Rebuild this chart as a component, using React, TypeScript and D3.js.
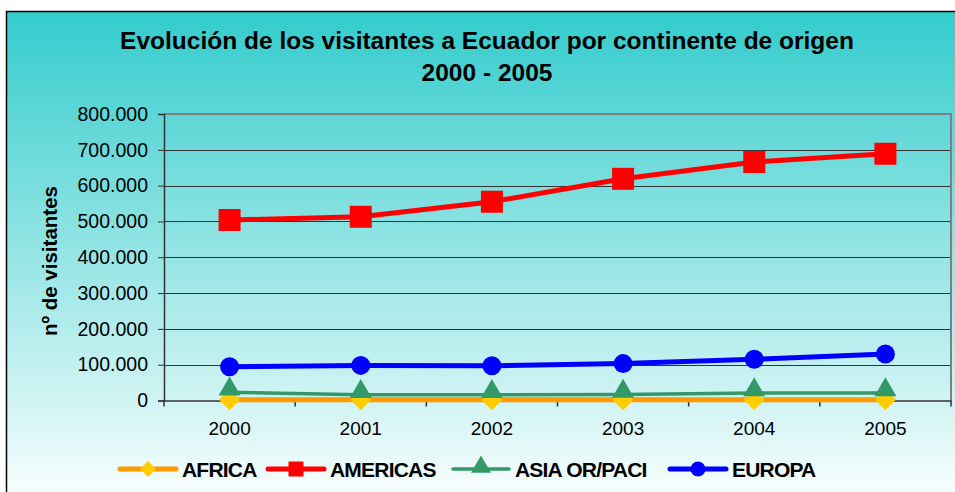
import { useRef, useEffect } from "react";
import * as d3 from "d3";

const years = ["2000", "2001", "2002", "2003", "2004", "2005"];
const africa = [2000, 2000, 2000, 2000, 2000, 2000];
const americas = [504000, 513000, 555000, 619000, 666000, 689000];
const asia = [23000, 16000, 16000, 17000, 21000, 21000];
const europa = [94000, 98000, 97000, 103000, 115000, 130000];
const yTicks = [0, 100000, 200000, 300000, 400000, 500000, 600000, 700000, 800000];

type Serie = { name: string; values: number[]; line: string; fill: string; width: number; shape: string };

const series: Serie[] = [
    { name: "AFRICA", values: africa, line: "#FF9900", fill: "#FFCC00", width: 5, shape: "diamond" },
    { name: "AMERICAS", values: americas, line: "#FF0000", fill: "#FF0000", width: 5, shape: "square" },
    { name: "ASIA OR/PACI", values: asia, line: "#339966", fill: "#339966", width: 3.5, shape: "triangle" },
    { name: "EUROPA", values: europa, line: "#0000FF", fill: "#0000FF", width: 5, shape: "circle" },
];

const W = 955;
const H = 492;
const plot = { left: 164, top: 114, right: 951, bottom: 400.5 };
const font = "'Liberation Sans', Arial, sans-serif";

// marker path, size is roughly the marker's width in px
function symbolPath(shape: string, size: number) {
    if (shape === "square") return d3.symbol(d3.symbolSquare, size * size)();
    if (shape === "circle") return d3.symbol(d3.symbolCircle, Math.PI * size * size / 4)();
    if (shape === "triangle") return d3.symbol(d3.symbolTriangle, Math.sqrt(3) / 4 * size * size)();
    const h = size / 2;
    return `M0,${-h}L${h},0L0,${h}L${-h},0Z`;
}

export default function App() {
    const svgRef = useRef<SVGSVGElement>(null);

    useEffect(() => {
        const svg = d3.select(svgRef.current as SVGSVGElement);
        svg.selectAll("*").remove();

        // background gradient
        const defs = svg.append("defs");
        const grad = defs.append("linearGradient").attr("id", "bg")
            .attr("x1", 0).attr("y1", 0).attr("x2", 0).attr("y2", 1);
        grad.append("stop").attr("offset", "0%").attr("stop-color", "#33CCCC");
        grad.append("stop").attr("offset", "100%").attr("stop-color", "#FFFFFF");

        svg.append("rect").attr("x", 0).attr("y", 0).attr("width", W).attr("height", H).attr("fill", "#fff");
        svg.append("rect")
            .attr("x", 6.5).attr("y", 11.5).attr("width", W + 10).attr("height", H + 10)
            .attr("fill", "url(#bg)").attr("stroke", "#000").attr("stroke-width", 1.5);

        // title
        const title = svg.append("text")
            .attr("text-anchor", "middle")
            .attr("font-family", font).attr("font-weight", "bold").attr("font-size", 24.5);
        title.append("tspan").attr("x", 487).attr("y", 49).text("Evolución de los visitantes a Ecuador por continente de origen");
        title.append("tspan").attr("x", 487).attr("y", 81).text("2000 - 2005");

        const x = d3.scaleBand().domain(years).range([plot.left, plot.right]);
        const y = d3.scaleLinear().domain([0, 800000]).range([plot.bottom, plot.top]);

        // grid
        svg.append("g").selectAll("line").data(yTicks.filter(d => d > 0 && d < 800000)).join("line")
            .attr("x1", plot.left).attr("x2", plot.right)
            .attr("y1", d => Math.round(y(d)) + 0.5).attr("y2", d => Math.round(y(d)) + 0.5)
            .attr("stroke", "#333").attr("stroke-width", 1);

        // plot border (top, right)
        svg.append("path")
            .attr("d", `M${plot.left},${plot.top}H${plot.right}V${plot.bottom}`)
            .attr("fill", "none").attr("stroke", "#808080").attr("stroke-width", 2);

        // y axis
        const yAxis = svg.append("g")
            .attr("transform", `translate(${plot.left},0)`)
            .call(d3.axisLeft(y).tickValues(yTicks).tickSize(6).tickPadding(10)
                .tickFormat(d => d3.format(",")(d as number).replace(/,/g, ".")));
        yAxis.select(".domain").attr("stroke", "#333").attr("stroke-width", 1.5);
        yAxis.selectAll(".tick line").attr("stroke", "#333");
        yAxis.selectAll("text").attr("font-family", font).attr("font-size", 19.5).attr("fill", "#000");

        // x axis
        const xAxis = svg.append("g")
            .attr("transform", `translate(0,${plot.bottom})`)
            .call(d3.axisBottom(x).tickSize(0).tickPadding(21));
        xAxis.select(".domain").attr("stroke", "#333").attr("stroke-width", 1.5);
        xAxis.selectAll("text").attr("font-family", font).attr("font-size", 19).attr("fill", "#000");
        svg.append("g").selectAll("line").data(d3.range(years.length + 1)).join("line")
            .attr("x1", i => plot.left + i * x.step()).attr("x2", i => plot.left + i * x.step())
            .attr("y1", plot.bottom).attr("y2", plot.bottom + 6)
            .attr("stroke", "#333").attr("stroke-width", 1.5);

        // y title
        svg.append("text")
            .attr("transform", "translate(57,261) rotate(-90)")
            .attr("text-anchor", "middle")
            .attr("font-family", font).attr("font-weight", "bold").attr("font-size", 20.5)
            .text("nº de visitantes");

        const cx = (i: number) => (x(years[i]) as number) + x.bandwidth() / 2;
        const line = d3.line<number>().x((_, i) => cx(i)).y(d => y(d));
        const plotSize: Record<string, number> = { diamond: 21, square: 22, triangle: 22, circle: 19 };
        const legendSize: Record<string, number> = { diamond: 16, square: 15, triangle: 20, circle: 15 };

        series.forEach(s => {
            const g = svg.append("g");
            g.append("path").attr("d", line(s.values))
                .attr("fill", "none").attr("stroke", s.line).attr("stroke-width", s.width)
                .attr("stroke-linejoin", "round");
            g.selectAll("path.m").data(s.values).join("path").attr("class", "m")
                .attr("d", symbolPath(s.shape, plotSize[s.shape]))
                .attr("transform", (d, i) => `translate(${cx(i)},${y(d) + (s.shape === "triangle" ? -3 : 0)})`)
                .attr("fill", s.fill);
        });

        // legend
        const legendX = [120, 268, 453, 670];
        const legend = svg.append("g");
        series.forEach((s, i) => {
            const g = legend.append("g").attr("transform", `translate(${legendX[i]},469)`);
            g.append("line").attr("x1", 0).attr("x2", 56).attr("y1", 0).attr("y2", 0)
                .attr("stroke", s.line).attr("stroke-width", s.width).attr("stroke-linecap", "round");
            g.append("path").attr("d", symbolPath(s.shape, legendSize[s.shape]))
                .attr("transform", `translate(28,${s.shape === "triangle" ? -2 : 0})`)
                .attr("fill", s.fill);
            g.append("text").attr("x", 62).attr("y", 7.5)
                .attr("font-family", font).attr("font-weight", "bold").attr("font-size", 21)
                .attr("letter-spacing", -0.8)
                .text(s.name);
        });
    }, []);

    return <svg ref={svgRef} width={W} height={H} style={{ display: "block", position: "absolute", left: 0, top: 0 }} />;
}
